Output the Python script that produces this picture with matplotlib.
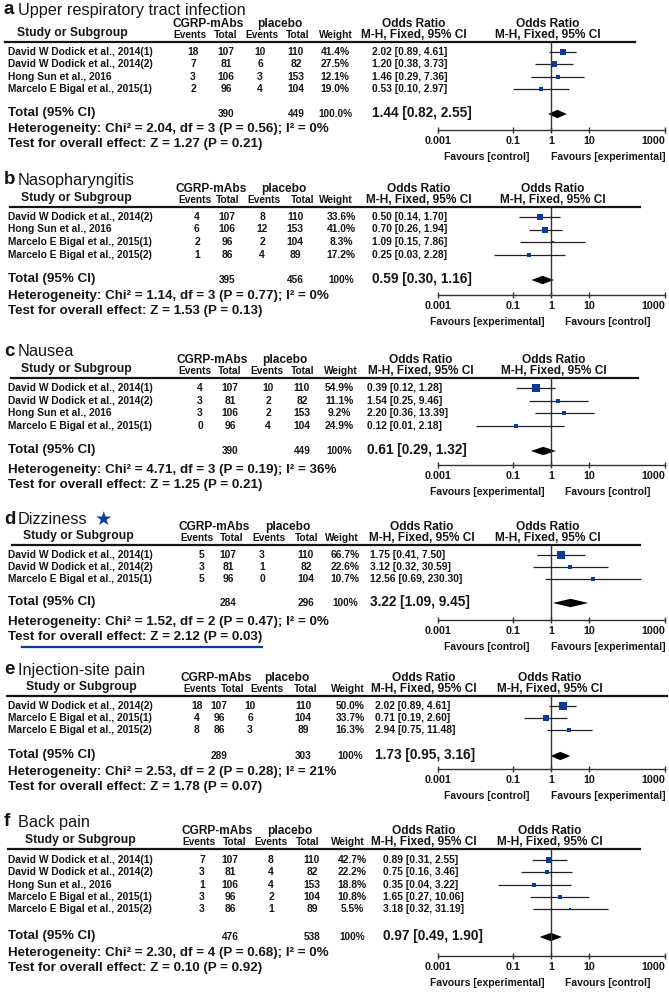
import matplotlib
matplotlib.use("Agg")
import matplotlib.pyplot as plt
from matplotlib.lines import Line2D
from matplotlib.ticker import NullLocator
import numpy as np

plt.rcParams['font.family'] = ['Liberation Sans', 'DejaVu Sans']

# ---- data (one block per panel) ----
a_studies = ["David W Dodick et al., 2014(1)", "David W Dodick et al., 2014(2)",
             "Hong Sun et al., 2016", "Marcelo E Bigal et al., 2015(1)"]
a_ev_t = [18, 7, 3, 2]
a_tot_t = [107, 81, 106, 96]
a_ev_c = [10, 6, 3, 4]
a_tot_c = [110, 82, 153, 104]
a_weight = [41.4, 27.5, 12.1, 19.0]
a_or = [2.02, 1.20, 1.46, 0.53]
a_lo = [0.89, 0.38, 0.29, 0.10]
a_hi = [4.61, 3.73, 7.36, 2.97]

b_studies = ["David W Dodick et al., 2014(2)", "Hong Sun et al., 2016",
             "Marcelo E Bigal et al., 2015(1)", "Marcelo E Bigal et al., 2015(2)"]
b_ev_t = [4, 6, 2, 1]
b_tot_t = [107, 106, 96, 86]
b_ev_c = [8, 12, 2, 4]
b_tot_c = [110, 153, 104, 89]
b_weight = [33.6, 41.0, 8.3, 17.2]
b_or = [0.50, 0.70, 1.09, 0.25]
b_lo = [0.14, 0.26, 0.15, 0.03]
b_hi = [1.70, 1.94, 7.86, 2.28]

c_studies = ["David W Dodick et al., 2014(1)", "David W Dodick et al., 2014(2)",
             "Hong Sun et al., 2016", "Marcelo E Bigal et al., 2015(1)"]
c_ev_t = [4, 3, 3, 0]
c_tot_t = [107, 81, 106, 96]
c_ev_c = [10, 2, 2, 4]
c_tot_c = [110, 82, 153, 104]
c_weight = [54.9, 11.1, 9.2, 24.9]
c_or = [0.39, 1.54, 2.20, 0.12]
c_lo = [0.12, 0.25, 0.36, 0.01]
c_hi = [1.28, 9.46, 13.39, 2.18]

d_studies = ["David W Dodick et al., 2014(1)", "David W Dodick et al., 2014(2)",
             "Marcelo E Bigal et al., 2015(1)"]
d_ev_t = [5, 3, 5]
d_tot_t = [107, 81, 96]
d_ev_c = [3, 1, 0]
d_tot_c = [110, 82, 104]
d_weight = [66.7, 22.6, 10.7]
d_or = [1.75, 3.12, 12.56]
d_lo = [0.41, 0.32, 0.69]
d_hi = [7.50, 30.59, 230.30]

e_studies = ["David W Dodick et al., 2014(2)", "Marcelo E Bigal et al., 2015(1)",
             "Marcelo E Bigal et al., 2015(2)"]
e_ev_t = [18, 4, 8]
e_tot_t = [107, 96, 86]
e_ev_c = [10, 6, 3]
e_tot_c = [110, 104, 89]
e_weight = [50.0, 33.7, 16.3]
e_or = [2.02, 0.71, 2.94]
e_lo = [0.89, 0.19, 0.75]
e_hi = [4.61, 2.60, 11.48]

f_studies = ["David W Dodick et al., 2014(1)", "David W Dodick et al., 2014(2)",
             "Hong Sun et al., 2016", "Marcelo E Bigal et al., 2015(1)",
             "Marcelo E Bigal et al., 2015(2)"]
f_ev_t = [7, 3, 1, 3, 3]
f_tot_t = [107, 81, 106, 96, 86]
f_ev_c = [8, 4, 4, 2, 1]
f_tot_c = [110, 82, 153, 104, 89]
f_weight = [42.7, 22.2, 18.8, 10.8, 5.5]
f_or = [0.89, 0.75, 0.35, 1.65, 3.18]
f_lo = [0.31, 0.16, 0.04, 0.27, 0.32]
f_hi = [2.55, 3.46, 3.22, 10.06, 31.19]

letters = ["a", "b", "c", "d", "e", "f"]
titles = ["Upper respiratory tract infection", "Nasopharyngitis", "Nausea",
          "Dizziness", "Injection-site pain", "Back pain"]
sum_t = [390, 395, 390, 284, 289, 476]
sum_c = [449, 456, 449, 296, 303, 538]
sum_w = ["100.0%", "100%", "100%", "100%", "100%", "100%"]
tot_or = [1.44, 0.59, 0.61, 3.22, 1.73, 0.97]
tot_lo = [0.82, 0.30, 0.29, 1.09, 0.95, 0.49]
tot_hi = [2.55, 1.16, 1.32, 9.45, 3.16, 1.90]
chi2 = [2.04, 1.14, 4.71, 1.52, 2.53, 2.30]
dfs = [3, 3, 3, 2, 2, 4]
p_het = [0.56, 0.77, 0.19, 0.47, 0.28, 0.68]
i2 = [0, 0, 36, 0, 21, 0]
z_val = [1.27, 1.53, 1.25, 2.12, 1.78, 0.10]
p_z = [0.21, 0.13, 0.21, 0.03, 0.07, 0.92]
fav_left = ["control", "experimental", "experimental", "control", "control", "experimental"]
fav_right = ["experimental", "control", "control", "experimental", "experimental", "control"]
ticks = [0.001, 0.1, 1, 10, 1000]
tick_labels = ["0.001", "0.1", "1", "10", "1000"]

panels = [
    (a_studies, a_ev_t, a_tot_t, a_ev_c, a_tot_c, a_weight, a_or, a_lo, a_hi),
    (b_studies, b_ev_t, b_tot_t, b_ev_c, b_tot_c, b_weight, b_or, b_lo, b_hi),
    (c_studies, c_ev_t, c_tot_t, c_ev_c, c_tot_c, c_weight, c_or, c_lo, c_hi),
    (d_studies, d_ev_t, d_tot_t, d_ev_c, d_tot_c, d_weight, d_or, d_lo, d_hi),
    (e_studies, e_ev_t, e_tot_t, e_ev_c, e_tot_c, e_weight, e_or, e_lo, e_hi),
    (f_studies, f_ev_t, f_tot_t, f_ev_c, f_tot_c, f_weight, f_or, f_lo, f_hi),
]

# ---- layout in pixels ----
W, H = 669, 992
# title_y, header line y, first row y, row step, total y, heterogeneity y, axis y
rows_y = [(10, 42, 51.7, 12.5, 113, 129, 130),
          (180, 207, 217, 12.5, 279, 296, 295),
          (352, 378, 388, 12.6, 450, 470, 465),
          (519, 545, 555, 12.0, 602, 622, 620),
          (670, 696, 706, 12.0, 755, 772, 769),
          (822, 849, 860, 12.3, 936, 953, 956)]
# header columns: events, total, events, total, weight
head_x = [(190, 226, 262, 298, 336), (195, 228, 264, 303, 336), (195, 230, 267, 303, 341),
          (197, 232, 269, 307, 342), (200, 233, 267, 306, 348), (199, 235, 271, 308, 348)]
# data columns: events, total, events, total, weight, OR text left
data_x = [(193, 226, 260, 296, 335, 372), (197, 227, 262, 295, 341, 372),
          (200, 230, 268, 302, 339, 367), (202, 228, 262, 306, 345, 370),
          (197, 219, 250, 303, 350, 375), (202, 230, 271, 312, 352, 383)]
or1_x = [414, 419, 421, 422, 424, 424]
or2_x = [548, 553, 554, 548, 550, 550]
study_x = [72, 76, 76, 78, 81, 80]
hline_x = [(5, 635), (10, 640), (11, 638), (12, 640), (7, 667), (8, 640)]
AX_L, AX_R = 437.7, 665

INK = "#151515"
BLUE = "#0c3a96"

fig = plt.figure(figsize=(6.69, 9.92), dpi=100)


def ftxt(x, y, s, size, weight="bold", ha="center", **kw):
    fig.text(x / W, 1 - y / H, s, fontsize=size, fontweight=weight, ha=ha,
             va="center", color=kw.pop("color", INK), **kw)


for k, pdata in enumerate(panels):
    studies, ev_t, tot_t, ev_c, tot_c, wts, ors, los, his = pdata
    ty, ly, r0, step, toty, hety, axy = rows_y[k]
    hx = head_x[k]
    dx = data_x[k]

    # title
    ftxt(4, ty, letters[k], 13.5, ha="left")
    ftxt(18, ty, titles[k], 11.7, weight="normal", ha="left")
    if letters[k] == "d":
        ftxt(95, ty, "\u2605", 14, weight="normal", ha="left", color=BLUE,
             family="DejaVu Sans")

    # header
    ftxt((hx[0] + hx[1]) / 2, ly - 18, "CGRP-mAbs", 8.6)
    ftxt((hx[2] + hx[3]) / 2, ly - 18, "placebo", 8.6)
    ftxt(study_x[k], ly - 9, "Study or Subgroup", 8.7)
    for x, lab in zip(hx, ["Events", "Total", "Events", "Total", "Weight"]):
        ftxt(x, ly - 7, lab, 7.3)
    ftxt(or1_x[k], ly - 18, "Odds Ratio", 8.6)
    ftxt(or1_x[k], ly - 7, "M-H, Fixed, 95% CI", 8.6)
    ftxt(or2_x[k], ly - 18, "Odds Ratio", 8.6)
    ftxt(or2_x[k], ly - 7, "M-H, Fixed, 95% CI", 8.6)
    x0, x1 = hline_x[k]
    fig.add_artist(Line2D([x0 / W, x1 / W], [1 - ly / H] * 2, lw=1.6, color=INK))

    # study rows
    ys = r0 + step * np.arange(len(studies))
    for i, y in enumerate(ys):
        ftxt(8, y, studies[i], 7.4, ha="left")
        ftxt(dx[0], y, str(ev_t[i]), 7.4)
        ftxt(dx[1], y, str(tot_t[i]), 7.4)
        ftxt(dx[2], y, str(ev_c[i]), 7.4)
        ftxt(dx[3], y, str(tot_c[i]), 7.4)
        ftxt(dx[4], y, f"{wts[i]:.1f}%", 7.4)
        ftxt(dx[5], y, f"{ors[i]:.2f} [{los[i]:.2f}, {his[i]:.2f}]", 7.4, ha="left")

    # total row and statistics
    ftxt(8, toty, "Total (95% CI)", 9.6, ha="left")
    ftxt(dx[1], toty + 1, str(sum_t[k]), 7.2)
    ftxt(dx[3], toty + 1, str(sum_c[k]), 7.2)
    ftxt(dx[4], toty + 1, sum_w[k], 7.2)
    ftxt(dx[5], toty, f"{tot_or[k]:.2f} [{tot_lo[k]:.2f}, {tot_hi[k]:.2f}]", 9.8, ha="left")
    ftxt(8, hety, f"Heterogeneity: Chi\u00b2 = {chi2[k]:.2f}, df = {dfs[k]} "
                  f"(P = {p_het[k]:.2f}); I\u00b2 = {i2[k]}%", 9.6, ha="left")
    ftxt(8, hety + 15, f"Test for overall effect: Z = {z_val[k]:.2f} (P = {p_z[k]:.2f})",
         9.6, ha="left")
    if letters[k] == "d":
        fig.add_artist(Line2D([22 / W, 262 / W], [1 - (hety + 25) / H] * 2,
                              lw=1.6, color=BLUE))

    # forest plot
    ax = fig.add_axes([AX_L / W, 1 - axy / H, (AX_R - AX_L) / W, (axy - ly) / H])
    ax.patch.set_visible(False)
    ax.set_xscale("log")
    ax.set_xlim(0.001, 1000)
    ax.set_ylim(axy, ly)
    for s in ["top", "left", "right"]:
        ax.spines[s].set_visible(False)
    ax.spines["bottom"].set_linewidth(1.0)
    ax.spines["bottom"].set_color("#333333")
    ax.set_yticks([])
    ax.set_xticks(ticks)
    ax.xaxis.set_minor_locator(NullLocator())
    ax.set_xticklabels(tick_labels, fontsize=7.7, fontweight="bold", color=INK)
    ax.tick_params(axis="x", direction="inout", length=5, width=1.0, color="#333333", pad=1.5)
    ax.get_xticklabels()[-1].set_ha("right")
    ax.axvline(1, color="#333333", lw=1.0)

    ax.hlines(ys, los, his, color="#222222", lw=0.9)
    for i, y in enumerate(ys):
        side = np.sqrt(wts[i])
        ax.plot(ors[i], y, marker="s", ms=side * 0.72, color=BLUE, mew=0)
    hh = 4.2
    ax.fill([tot_lo[k], tot_or[k], tot_hi[k], tot_or[k]],
            [toty + 1, toty + 1 - hh, toty + 1, toty + 1 + hh], color="black", lw=0)

    ftxt(487, axy + 27, f"Favours [{fav_left[k]}]", 7.5)
    ftxt(608, axy + 27, f"Favours [{fav_right[k]}]", 7.5)

fig.savefig("out.png", dpi=100, facecolor="white")
